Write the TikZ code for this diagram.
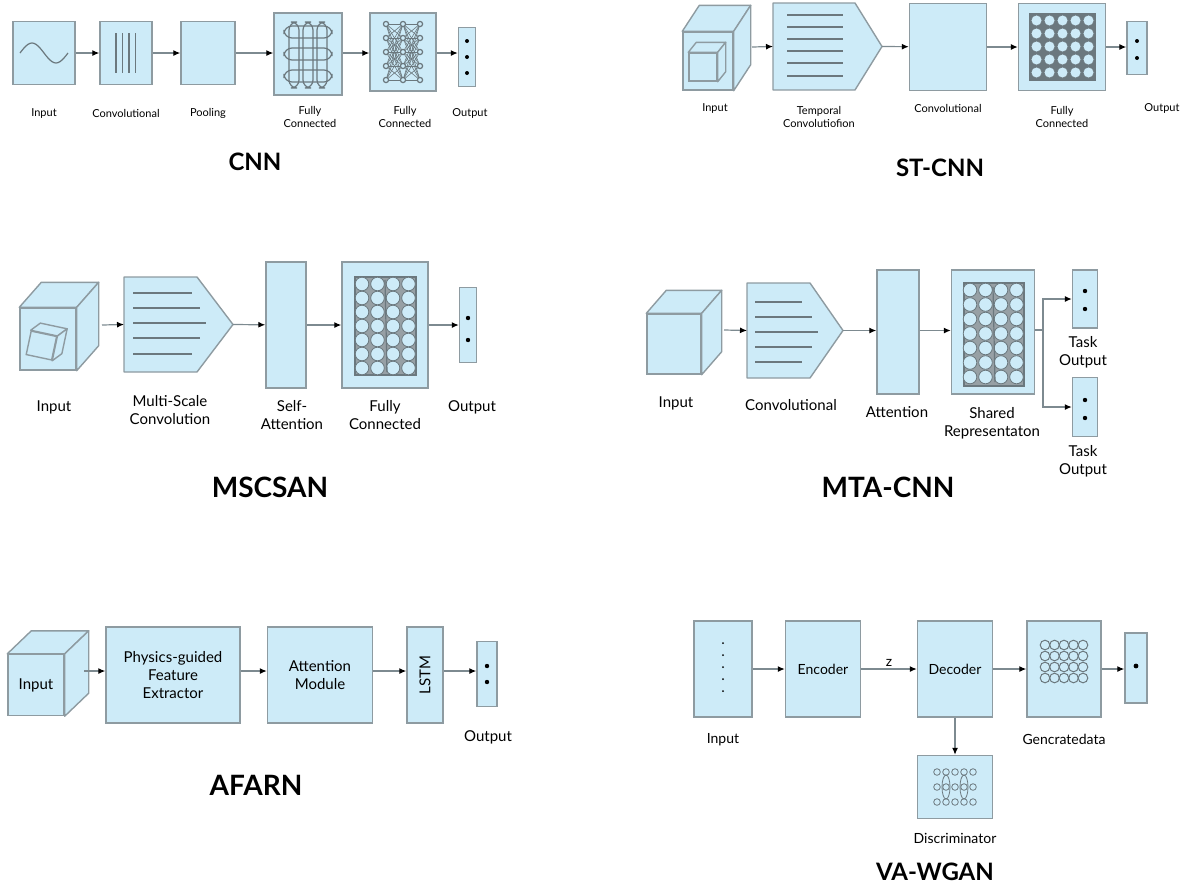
\documentclass[tikz,border=0pt]{standalone}
\usepackage{fontspec}
\setmainfont{Lato}
\usetikzlibrary{calc,arrows.meta}

\definecolor{blockfill}{HTML}{CDEBF8}
\definecolor{edgec}{HTML}{8E9BA1}
\definecolor{linec}{HTML}{7D8A90}
\definecolor{darkc}{HTML}{6B787E}

\tikzset{
	blk/.style args={#1/#2}{draw=edgec, fill=blockfill, line width=0.7pt, inner sep=0pt,
		minimum width=#1*0.5pt, minimum height=#2*0.5pt},
	arr/.style={draw=linec, line width=0.6pt, -{Latex[length=3.5pt,width=3pt,black]}},
	inner/.style={draw=darkc, line width=0.6pt},
	lblA/.style={font=\fontsize{5.5}{6.5}\selectfont, align=center, inner sep=0pt},
	lblB/.style={font=\fontsize{7.5}{9}\selectfont, align=center, inner sep=0pt},
	lblC/.style={font=\fontsize{7}{8.5}\selectfont, align=center, inner sep=0pt},
	ttl/.style={font=\fontsize{12}{14}\selectfont\bfseries, inner sep=0pt},
	ttlB/.style={font=\fontsize{14}{16}\selectfont\bfseries, inner sep=0pt},
	cubeface/.style={draw=edgec, fill=blockfill, line width=0.7pt, line join=round},
}
% top and right faces of a cube
\newcommand{\cubefaces}[3]{
	\filldraw[cubeface] (#1.north west) -- ++(#2,#3) -- ($(#1.north east)+(#2,#3)$) -- (#1.north east) -- cycle;
	\filldraw[cubeface] (#1.north east) -- ++(#2,#3) -- ($(#1.south east)+(#2,#3)$) -- (#1.south east) -- cycle;
}
% pentagon block: name, left, body end, tip, top, bottom
\newcommand{\pentblk}[6]{
	\filldraw[cubeface] (#2,#5) -- (#3,#5) -- (#4,{(#5+#6)/2}) -- (#3,#6) -- (#2,#6) -- cycle;
	\coordinate (#1W) at (#2,{(#5+#6)/2});
	\coordinate (#1E) at (#4,{(#5+#6)/2});
}

\begin{document}
\begin{tikzpicture}[x=0.5pt,y=-0.5pt]
	\useasboundingbox (0,0) rectangle (1200,889);

	%----- CNN
	\node[blk=62/63] (cnnIn) at (44,53) {};
	\draw[inner] plot[smooth,domain=20:68] (\x,{53-10*sin((\x-20)*7.5)});
	\node[blk=52/63] (cnnConv) at (126,53) {};
	\foreach \x in {116,122.5,129,135.5} \draw[inner] (\x,33) -- (\x,73);
	\node[blk=54/63] (cnnPool) at (208,53) {};
	\node[blk=68/82] (cnnFcA) at (308,54) {};
	\foreach \y in {32,54,76} \draw[inner,rounded corners=4pt] (284,\y-6) rectangle (332,\y+6);
	\foreach \x in {294,308,322} \draw[inner,rounded corners=4pt] (\x-5,22) rectangle (\x+5,88);
	\node[blk=66/78] (cnnFcB) at (403,52) {};
	\foreach \ya in {24,38,52,66,80} \foreach \yb in {24,38,52,66,80} {
		\draw[darkc,line width=0.3pt] (386,\ya) -- (403,\yb);
		\draw[darkc,line width=0.3pt] (403,\ya) -- (420,\yb);
	}
	\foreach \x in {386,403,420} \foreach \y in {24,38,52,66,80}
		\draw[inner,fill=blockfill] (\x,\y) circle (2.6);
	\node[blk=17/59] (cnnOut) at (467,57) {};
	\foreach \y in {41,57,73} \fill (467,\y) circle (2);
	\draw[arr] (cnnIn) -- (cnnConv);
	\draw[arr] (cnnConv) -- (cnnPool);
	\draw[arr] (cnnPool) -- (cnnFcA.west |- cnnPool);
	\draw[arr] (cnnFcA.east |- cnnPool) -- (cnnFcB.west |- cnnPool);
	\draw[arr] (cnnFcB.east |- cnnPool) -- (cnnOut.west |- cnnPool);
	\node[lblA] (cnnInL) at (44,113) {Input};
	\node[lblA] (cnnConvL) at (126,113) {Convolutional};
	\node[lblA] (cnnPoolL) at (208,113) {Pooling};
	\node[lblA] (cnnFcAL) at (310,117) {Fully\\Connected};
	\node[lblA] (cnnFcBL) at (405,117) {Fully\\Connected};
	\node[lblA] (cnnOutL) at (470,113) {Output};
	\node[ttl] (cnnT) at (255,162) {CNN};

	%----- ST-CNN
	\node[blk=50/58] (stIn) at (708,61) {};
	\cubefaces{stIn}{17}{-26}
	\node[blk=28/28] (stInC) at (703,67) {};
	\cubefaces{stInC}{8}{-10}
	\pentblk{stTc}{773}{855}{882}{3}{90}
	\foreach \y in {15,27,39,51,63,76} \draw[inner] (787,\y) -- (843,\y);
	\node[blk=77/87] (stConv) at (948,47) {};
	\node[blk=87/87] (stFc) at (1062,47) {};
	\filldraw[inner,fill=darkc] (1030,14) rectangle (1095,80);
	\foreach \i in {0,...,4} \foreach \j in {0,...,4}
		\draw[darkc,fill=blockfill,line width=0.4pt] (1036.5+13*\i,20.5+13*\j) circle (5.6);
	\node[blk=20/53] (stOut) at (1137,48) {};
	\foreach \y in {41,58} \fill (1137,\y) circle (2);
	\coordinate (stInE) at (752,47);
	\draw[arr] (stInE) -- (stTcW);
	\draw[arr] (stTcE) -- (stConv);
	\draw[arr] (stConv) -- (stFc);
	\draw[arr] (stFc) -- (stOut.west |- stFc);
	\node[lblA] (stInL) at (715,108) {Input};
	\node[lblA] (stTcL) at (819,117) {Temporal\\Convolutiofion};
	\node[lblA] (stConvL) at (948,108) {Convolutional};
	\node[lblA] (stFcL) at (1062,117) {Fully\\Connected};
	\node[lblA] (stOutL) at (1162,108) {Output};
	\node[ttl] (stT) at (940,168) {ST-CNN};

	%----- MSCSAN
	\node[blk=56/62] (msIn) at (48,339) {};
	\cubefaces{msIn}{22}{-25}
	\begin{scope}[rotate around={-12:(44,343)}]
		\node[blk=26/24, rotate=-12] (msInC) at (42,346) {};
		\cubefaces{msInC}{8}{-9}
	\end{scope}
	\pentblk{msConv}{124}{197}{233}{277}{372}
	\foreach \y/\l in {293/192,308/200,323/206,338/200,354/192} \draw[inner] (133,\y) -- (\l,\y);
	\node[blk=40/126] (msAtt) at (286,325) {};
	\node[blk=86/126] (msFc) at (385,325) {};
	\filldraw[inner,fill=darkc!70] (355,277) rectangle (416,375);
	\foreach \i in {0,...,3} \foreach \j in {0,...,6}
		\draw[darkc,fill=blockfill,line width=0.4pt] (362+15.5*\i,284+14*\j) circle (6.8);
	\draw[darkc,line width=0.6pt] (385,280) -- (387,372);
	\node[blk=17/75] (msOut) at (468,325) {};
	\foreach \y in {318,340} \fill (468,\y) circle (2.2);
	\coordinate (msInE) at (102,325);
	\draw[arr] (msInE) -- (msConvW);
	\draw[arr] (msConvE) -- (msAtt);
	\draw[arr] (msAtt) -- (msFc);
	\draw[arr] (msFc) -- (msOut);
	\node[lblB] (msInL) at (54,407) {Input};
	\node[lblB] (msConvL) at (170,410) {Multi-Scale\\Convolution};
	\node[lblB] (msAttL) at (292,415) {Self-\\Attention};
	\node[lblB] (msFcL) at (385,415) {Fully\\Connected};
	\node[lblB] (msOutL) at (472,407) {Output};
	\node[ttlB] (msT) at (270,487) {MSCSAN};

	%----- MTA-CNN
	\node[blk=54/60] (mtIn) at (674,344) {};
	\cubefaces{mtIn}{20}{-23}
	\pentblk{mtConv}{747}{810}{843}{283}{378}
	\foreach \y/\l in {302/802,317/812,332/818,347/812,362/802} \draw[inner] (755,\y) -- (\l,\y);
	\node[blk=42/124] (mtAtt) at (898,332) {};
	\node[blk=83/124] (mtSh) at (993,332) {};
	\filldraw[inner,fill=darkc!70] (964,283) rectangle (1024,386);
	\foreach \i in {0,...,3} \foreach \j in {0,...,6}
		\draw[darkc,fill=blockfill,line width=0.4pt] (970+15.5*\i,290+14.5*\j) circle (6.8);
	\draw[darkc,line width=0.6pt] (993,287) -- (995,382);
	\node[blk=25/58] (mtOutA) at (1085,299) {};
	\foreach \y in {291,309} \fill (1085,\y) circle (2.2);
	\node[blk=25/59] (mtOutB) at (1085,407) {};
	\foreach \y in {400,418} \fill (1085,\y) circle (2.2);
	\coordinate (mtInE) at (724,330);
	\draw[arr] (mtInE) -- (mtConvW);
	\draw[arr] (mtConvE) -- (mtAtt.west |- mtConvE);
	\draw[arr] (mtAtt.east |- mtConvE) -- (mtSh.west |- mtConvE);
	\coordinate (mtSplit) at (1043,330);
	\draw[draw=linec, line width=0.6pt] (mtSh.east |- mtSplit) -- (mtSplit);
	\draw[arr] (mtSplit) |- (mtOutA);
	\draw[arr] (mtSplit) |- (mtOutB);
	\node[lblB] (mtInL) at (676,403) {Input};
	\node[lblB] (mtConvL) at (791,405) {Convolutional};
	\node[lblB] (mtAttL) at (897,412) {Attention};
	\node[lblB] (mtShL) at (992,423) {Shared\\Representaton};
	\node[lblB] (mtOutAL) at (1083,352) {Task\\Output};
	\node[lblB] (mtOutBL) at (1083,461) {Task\\Output};
	\node[ttlB] (mtT) at (888,487) {MTA-CNN};

	%----- AFARN
	\node[blk=56/61, lblB] (afIn) at (36,685) {Input};
	\cubefaces{afIn}{24}{-23}
	\node[blk=134/96, lblB] (afPg) at (173,675) {Physics-guided\\Feature\\Extractor};
	\node[blk=105/96, lblB] (afAtt) at (320,675) {Attention\\Module};
	\node[blk=36/96] (afLstm) at (425,675) {};
	\node[lblB, rotate=90] (afLstmT) at (afLstm) {LSTM};
	\node[blk=20/65] (afOut) at (487,674) {};
	\foreach \y in {666,682} \fill (487,\y) circle (2.2);
	\coordinate (afInE) at (84,671);
	\draw[arr] (afInE) -- (afPg.west |- afInE);
	\draw[arr] (afPg.east |- afInE) -- (afAtt.west |- afInE);
	\draw[arr] (afAtt.east |- afInE) -- (afLstm.west |- afInE);
	\draw[arr] (afLstm.east |- afInE) -- (afOut.west |- afInE);
	\node[lblB] (afOutL) at (488,737) {Output};
	\node[ttlB] (afT) at (256,785) {AFARN};

	%----- VA-WGAN
	\node[blk=58/96] (vaIn) at (723,669) {};
	\foreach \y in {643,655,667,679,691} \fill (723,\y) circle (1);
	\node[blk=75/96, lblC] (vaEnc) at (823,669) {Encoder};
	\node[blk=75/96, lblC] (vaDec) at (955,669) {Decoder};
	\node[blk=74/96] (vaGen) at (1064,669) {};
	\foreach \i in {0,...,4} \foreach \j in {0,...,3}
		\draw[darkc,line width=0.5pt] (1045+9.5*\i,645+11*\j) circle (4.8);
	\node[blk=22/70] (vaOut) at (1136,668) {};
	\fill (1136,666) circle (2.4);
	\node[blk=75/63] (vaDis) at (955,787) {};
	\foreach \i in {0,...,4} {
		\draw[darkc,line width=0.4pt] (937+9*\i,772) circle (3.3);
		\draw[darkc,line width=0.4pt] (937+9*\i,787) circle (3.3);
		\draw[darkc,line width=0.4pt] (937+9*\i,802) circle (3.3);
	}
	\foreach \x in {946,964} \draw[darkc,line width=0.4pt] (\x,787) ellipse (4 and 12);
	\draw[arr] (vaIn) -- (vaEnc);
	\draw[arr] (vaEnc) -- node[lblC, above=1pt] (vaZ) {z} (vaDec);
	\draw[arr] (vaDec) -- (vaGen);
	\draw[arr] (vaGen) -- (vaOut.west |- vaGen);
	\draw[arr] (vaDec) -- (vaDis);
	\node[lblC] (vaInL) at (723,740) {Input};
	\node[lblC] (vaGenL) at (1064,739) {Gencratedata};
	\node[lblC] (vaDisL) at (955,838) {Discriminator};
	\node[ttl] (vaT) at (935,872) {VA-WGAN};
\end{tikzpicture}
\end{document}
